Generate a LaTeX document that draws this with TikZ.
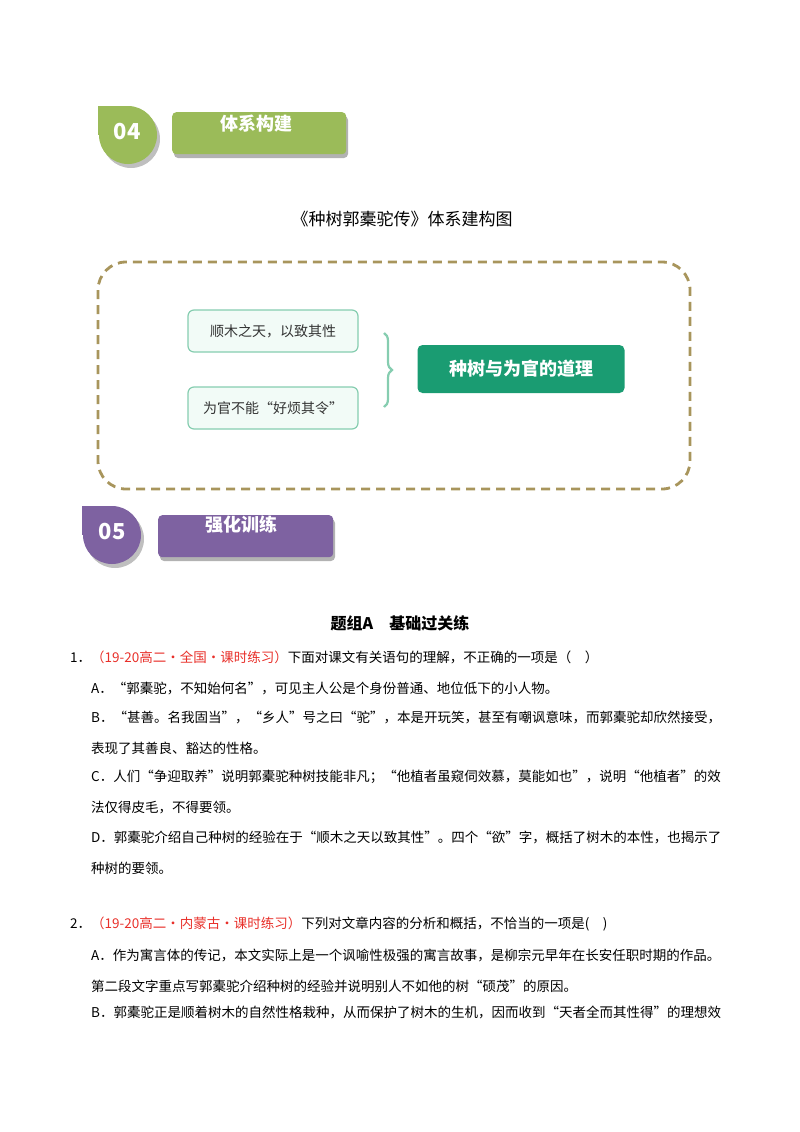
\documentclass[tikz,border=0pt]{standalone}
\usepackage{fontspec}
\setmainfont{Noto Sans CJK SC}
\usetikzlibrary{decorations.pathreplacing}
\definecolor{lgreen}{HTML}{9BBB59}
\definecolor{purp}{HTML}{7E62A1}
\definecolor{olive}{HTML}{A8955C}
\definecolor{dgreen}{HTML}{1A9C72}
\definecolor{bborder}{HTML}{86CDB0}
\definecolor{bfill}{HTML}{F2FBF7}
\definecolor{redt}{HTML}{E8302A}
\begin{document}
\begin{tikzpicture}[x=1pt,y=-1pt,
  banner/.style={rounded corners=4pt,minimum width=174pt,minimum height=42pt,anchor=north west,inner sep=0},
  lbox/.style={draw=bborder,line width=1.2pt,fill=bfill,rounded corners=6pt,minimum width=170pt,minimum height=42pt,font=\fontsize{14}{16}\selectfont,text=black!80},
  body/.style={anchor=west,font=\fontsize{13.5}{15}\selectfont,inner sep=0},
  badgenum/.style={text=white,font=\bfseries\fontsize{22}{22}\selectfont}]
\useasboundingbox (0,0) rectangle (800,1132);
% 04 header
\fill[gray!50] (131,139) circle (29);
\fill[gray!50] (101,110) rectangle (131,139);
\fill[lgreen] (128,135) circle (29);
\fill[lgreen] (98,106) rectangle (128,135);
\node[badgenum] (n04) at (127,132) {04};
\fill[gray!60,rounded corners=4pt] (174,116) rectangle (348,158);
\node[banner,fill=lgreen] (b04) at (172,112) {};
\node[text=white,font=\bfseries\fontsize{18}{18}\selectfont] (t04) at (256,124) {体系构建};
% title
\node[font=\fontsize{17}{19}\selectfont] (title) at (402,219) {《种树郭橐驼传》体系建构图};
\draw[olive,line width=2.8pt,dash pattern=on 9pt off 6pt,rounded corners=28pt] (98,262) rectangle (690,489);
\node[lbox] (a) at (273,331) {顺木之天，以致其性};
\node[lbox] (b) at (273,408) {为官不能“好烦其令”};
\node[fill=dgreen,rounded corners=5pt,minimum width=207pt,minimum height=48pt,text=white,font=\bfseries\fontsize{18}{20}\selectfont] (c) at (521,369) {种树与为官的道理};
\draw[bborder,line width=2.2pt,decorate,decoration={brace,amplitude=8pt}] (384,333) -- (384,407);
% 05 header
\fill[gray!50] (115,539) circle (29);
\fill[gray!50] (85,510) rectangle (115,539);
\fill[purp] (112,535) circle (29);
\fill[purp] (82,506) rectangle (112,535);
\node[badgenum] (n05) at (112,532) {05};
\fill[gray!60,rounded corners=4pt] (160,519) rectangle (335,561);
\node[banner,fill=purp,minimum width=175pt] (b05) at (158,515) {};
\node[text=white,font=\bfseries\fontsize{18}{18}\selectfont] (t05) at (241,525) {强化训练};
% questions
\node[font=\bfseries\fontsize{16}{18}\selectfont] (sec) at (400,623) {题组A\quad 基础过关练};
\node[body] (q1) at (70,657) {1．{\color{redt}（19-20高二·全国·课时练习）}下面对课文有关语句的理解，不正确的一项是（\quad ）};
\node[body] (q1a) at (91,688) {A．“郭橐驼，不知始何名”，可见主人公是个身份普通、地位低下的小人物。};
\node[body] (q1b) at (91,717) {B．“甚善。名我固当”，“乡人”号之曰“驼”，本是开玩笑，甚至有嘲讽意味，而郭橐驼却欣然接受，};
\node[body] (q1b2) at (91,748) {表现了其善良、豁达的性格。};
\node[body] (q1c) at (91,777) {C．人们“争迎取养”说明郭橐驼种树技能非凡；“他植者虽窥伺效慕，莫能如也”，说明“他植者”的效};
\node[body] (q1c2) at (91,808) {法仅得皮毛，不得要领。};
\node[body] (q1d) at (91,837) {D．郭橐驼介绍自己种树的经验在于“顺木之天以致其性”。四个“欲”字，概括了树木的本性，也揭示了};
\node[body] (q1d2) at (91,868) {种树的要领。};
\node[body] (q2) at (70,924) {2．{\color{redt}（19-20高二·内蒙古·课时练习）}下列对文章内容的分析和概括，不恰当的一项是(\quad )};
\node[body] (q2a) at (91,955) {A．作为寓言体的传记，本文实际上是一个讽喻性极强的寓言故事，是柳宗元早年在长安任职时期的作品。};
\node[body] (q2a2) at (91,986) {第二段文字重点写郭橐驼介绍种树的经验并说明别人不如他的树“硕茂”的原因。};
\node[body] (q2b) at (91,1012) {B．郭橐驼正是顺着树木的自然性格栽种，从而保护了树木的生机，因而收到“天者全而其性得”的理想效};
\end{tikzpicture}
\end{document}
